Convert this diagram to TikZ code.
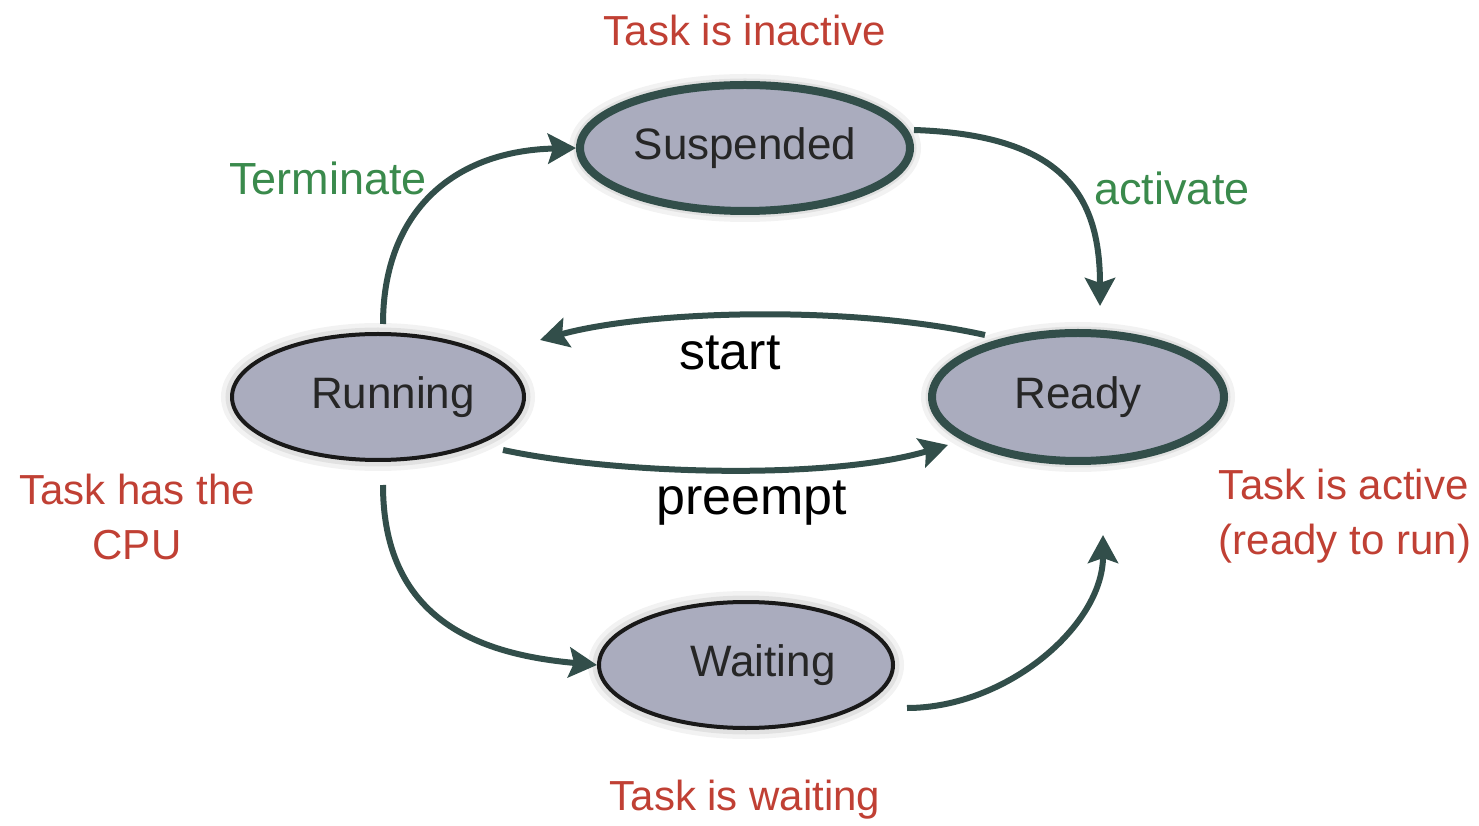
\documentclass[tikz,border=0pt]{standalone}
\usepackage{fontspec}
\setmainfont{Liberation Sans}
\usetikzlibrary{arrows.meta,shapes.geometric}
\definecolor{edge}{RGB}{50,78,74}
\definecolor{fillc}{RGB}{170,172,190}
\definecolor{redt}{RGB}{192,64,52}
\definecolor{greent}{RGB}{58,138,76}
\begin{document}
\begin{tikzpicture}[x=1pt,y=1pt,
 state/.style={ellipse, fill=fillc, inner sep=0pt, text=black!85, font=\fontsize{44}{50}\selectfont,
   preaction={draw=black, draw opacity=.05, line width=22pt},
   preaction={draw=black, draw opacity=.07, line width=13pt}},
 active/.style={state, draw=edge, line width=8pt},
 passive/.style={state, draw=black!90, line width=4pt},
 arr/.style={draw=edge, line width=6pt, -{Stealth[length=28pt,width=30pt,inset=5pt]}},
 redlab/.style={text=redt, font=\fontsize{42}{55}\selectfont},
 grnlab/.style={text=greent, font=\fontsize{45}{50}\selectfont},
 blklab/.style={text=black, font=\fontsize{52}{60}\selectfont}]
\useasboundingbox (0,0) rectangle (1479,825);
\node[active, minimum width=330pt, minimum height=126pt] (susp) at (745,677) {Suspended};
\node[passive, minimum width=292pt, minimum height=126pt] (run) at (378,428) {\hspace*{30pt}Running};
\node[active, minimum width=292pt, minimum height=128pt] (ready) at (1078,428) {Ready};
\node[passive, minimum width=294pt, minimum height=126pt] (wait) at (746,160) {\hspace*{34pt}Waiting};

\node[redlab] (l1) at (745,795) {Task is inactive};
\node[grnlab] (l2) at (328,647) {Terminate};
\node[grnlab] (l3) at (1172,637) {activate};
\node[blklab] (l4) at (730,472) {start};
\node[blklab] (l5) at (752,322) {preempt};
\node[redlab, align=center] (l6) at (137,308) {Task has the\\CPU};
\node[redlab, align=left] (l7) at (1345,309) {Task is active\\(ready to run)};
\node[redlab] (l8) at (745,25) {Task is waiting};

\draw[arr] ([xshift=5pt,yshift=8pt]run.north) .. controls +(0,107) and +(-128,-3) .. (susp.west);
\draw[arr] ([yshift=18pt]susp.east) .. controls +(150,-5) and +(0,110) .. ([xshift=22pt,yshift=23pt]ready.north);
\draw[arr] ([xshift=-93pt,yshift=62pt]ready.center) .. controls +(-135,30) and +(110,30) .. ([xshift=162pt,yshift=57pt]run.center);
\draw[arr] ([xshift=125pt,yshift=-53pt]run.center) .. controls +(117,-25) and +(-118,-35) .. ([xshift=-130pt,yshift=-48pt]ready.center);
\draw[arr] ([xshift=5pt,yshift=-23pt]run.south) .. controls +(0,-140) and +(-110,10) .. (wait.west);
\draw[arr] ([xshift=12pt,yshift=-43pt]wait.east) .. controls +(100,0) and +(0,-90) .. ([xshift=25pt,yshift=-70pt]ready.south);
\end{tikzpicture}
\end{document}
